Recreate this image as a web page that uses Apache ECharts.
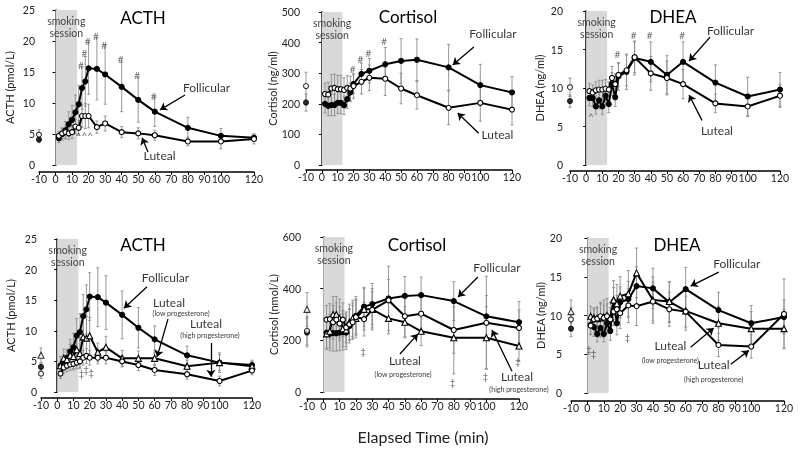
<!DOCTYPE html>
<html><head><meta charset="utf-8">
<script src="https://cdn.jsdelivr.net/npm/echarts@6/dist/echarts.min.js"></script>
<style>html,body{margin:0;padding:0;background:#fff}#c{width:800px;height:451px;filter:grayscale(100%)}</style>
</head><body><div id="c"></div>
<script>
// ---------- shared ----------
const times = [-10,2,4,6,8,10,12,14,16,18,20,25,30,40,50,60,80,100,120];
const smokingStart = 0, smokingEnd = 13;

// ---------- Panel 1: ACTH (top) ----------
const acthFol      = [4.1,4.3,5.0,5.6,6.6,7.3,8.5,9.8,12.4,13.5,15.6,15.5,14.6,12.6,10.5,8.6,6.0,4.7,4.4];
const acthFolErr   = [0.5,0.7,1.0,1.4,2.0,2.3,2.8,3.0,3.4,4.0,4.2,5.0,4.8,4.0,3.6,2.4,1.7,1.2,0.6];
const acthLut      = [4.9,4.7,5.1,5.3,5.1,5.3,6.2,6.0,7.9,7.9,7.9,6.1,6.7,5.3,5.1,4.8,3.8,3.8,4.2];
const acthLutErr   = [0.8,0.7,0.8,1.0,1.0,1.0,1.2,1.2,1.8,2.0,1.9,1.0,1.2,0.9,0.9,0.8,0.7,1.2,0.8];
const acthHash     = [[16,16.0],[18,17.9],[20,19.9],[25,20.7],[30,19.2],[40,16.9],[50,14.4],[60,11.0]];
const acthCaret    = [[18,4.7,'^^^']];

// ---------- Panel 2: Cortisol (top) ----------
const cortFol      = [204,200,193,196,196,203,203,195,215,237,265,298,308,329,340,344,319,261,237];
const cortFolErr   = [28,30,32,35,35,35,35,30,30,30,30,35,40,55,73,68,75,68,52];
const cortLut      = [258,232,230,250,252,248,248,245,252,250,258,272,285,282,250,228,187,203,181];
const cortLutErr   = [45,35,40,45,45,45,45,40,40,40,40,40,42,55,50,45,55,60,50];
const cortHash     = [[20,312],[25,343],[30,363],[40,401]];

// ---------- Panel 3: DHEA (top) ----------
const dheaFol      = [8.3,8.7,8.7,7.6,8.4,7.6,9.0,7.9,10.5,8.8,11.5,12.1,13.9,13.4,11.7,13.4,10.7,8.9,9.8];
const dheaFolErr   = [0.8,1.0,1.1,1.0,1.1,1.0,1.2,1.1,1.5,1.2,1.8,2.3,2.2,2.6,2.5,2.6,2.3,2.5,2.2];
const dheaLut      = [10.1,9.6,9.4,9.7,9.8,9.8,9.9,9.8,11.3,10.5,11.7,12.3,14.0,11.9,11.3,10.5,8.0,7.6,9.0];
const dheaLutErr   = [1.2,1.0,1.0,1.1,1.2,1.2,1.2,1.0,1.5,1.3,1.5,2.0,2.0,2.2,2.2,1.9,1.2,1.3,1.5];
const dheaHash     = [[20,14.3],[30,16.8],[40,16.8],[60,16.8]];
const dheaCaret    = [[3.5,6.2,'^']];

// ---------- Panel 4: ACTH (bottom, progesterone split) ----------
const acth2Fol     = [4.1,4.3,5.0,5.6,6.6,7.3,9.2,9.8,12.4,13.5,15.6,15.5,14.6,12.6,10.5,8.6,6.0,4.8,4.4];
const acth2FolErr  = [0.5,0.7,1.0,1.4,2.0,2.3,2.8,3.0,3.5,4.0,3.9,4.8,4.4,3.9,3.3,2.2,1.5,1.6,0.8];
const acth2Low     = [6.0,4.3,5.5,5.3,6.0,5.8,6.9,6.3,9.0,8.8,9.2,6.5,7.3,5.5,5.5,5.5,4.2,4.8,4.2];
const acth2LowErr  = [1.2,1.5,1.5,1.5,1.8,2.0,2.5,2.5,3.0,3.5,3.0,1.5,1.8,1.3,1.2,1.2,1.0,1.3,0.8];
const acth2High    = [3.0,3.0,4.0,4.3,4.5,4.6,4.8,5.0,5.6,5.9,5.6,5.6,5.6,5.0,4.4,3.6,2.9,1.8,3.5];
const acth2HighErr = [0.8,0.8,0.9,1.0,1.0,1.0,1.0,1.0,1.2,1.2,1.2,1.0,1.0,0.9,0.9,0.9,0.8,0.8,0.7];
const acth2Dagger  = [[15.5,3.0],[18.5,3.6],[21.5,3.1]];

// ---------- Panel 5: Cortisol (bottom) ----------
const cort2Fol     = [230,230,225,228,228,230,232,230,255,275,295,330,340,362,372,375,352,293,270];
const cort2FolErr  = [55,60,65,70,70,70,70,65,65,70,75,75,80,125,75,70,75,80,80];
const cort2Low     = [320,225,235,300,300,285,245,240,270,285,285,320,320,285,270,235,210,210,178];
const cort2LowErr  = [65,60,65,70,70,75,70,65,70,70,75,80,80,60,60,55,140,120,60];
const cort2High    = [237,280,282,270,280,265,280,250,262,270,290,282,318,355,293,303,240,268,248];
const cort2HighErr = [55,55,60,65,65,65,65,60,60,65,65,65,70,80,80,80,90,180,70];
const cort2Dagger  = [[25,156],[80,35],[100,59],[120,117]];

// ---------- Panel 6: DHEA (bottom) ----------
const dhea2Fol     = [8.3,8.8,8.5,7.6,8.4,7.6,9.0,8.0,11.8,9.0,11.7,12.1,13.8,13.5,11.7,13.4,10.7,9.0,9.8];
const dhea2FolErr  = [1.0,1.2,1.2,1.0,1.2,1.0,1.3,1.2,1.8,1.5,2.0,2.3,2.5,2.6,2.6,2.8,2.3,2.3,2.2];
const dhea2Low     = [10.5,9.9,9.7,9.6,9.7,9.8,10.0,9.7,12.0,11.5,12.5,12.8,15.5,12.0,11.8,10.6,9.0,8.3,8.3];
const dhea2LowErr  = [1.5,1.3,1.3,1.5,2.0,2.2,2.2,2.0,2.5,2.5,2.5,3.0,3.2,3.0,2.6,2.5,2.2,2.2,2.5];
const dhea2High    = [9.5,8.7,9.5,9.6,9.9,9.7,9.9,9.5,10.5,10.8,10.3,11.3,11.2,11.8,10.8,10.5,6.2,6.0,10.2];
const dhea2HighErr = [1.5,1.2,1.3,1.4,1.6,1.6,1.6,1.5,1.8,1.8,2.0,2.2,2.5,2.5,2.2,2.0,1.5,1.5,4.5];
const dhea2Dagger  = [[1.5,5.6],[4.5,5.0],[25,7.1]];

// ---------- annotations (data coordinates) ----------
const notes1 = [[91.9,12.3,'Follicular',12],[63.5,1.3,'Luteal',12]];
const arrows1 = [[[78.3,11.3],[63.2,8.9]],[[55.9,2.1],[52.3,4.4]]];
const notes2 = [[108.6,425,'Follicular',12],[111.4,98,'Luteal',12]];
const arrows2 = [[[95.9,386],[82.6,327]],[[99,104],[85.7,170]]];
const notes3 = [[90,17.3,'Follicular',12],[81.6,4.3,'Luteal',12]];
const arrows3 = [[[76.7,16.6],[63.7,13.5]],[[71.7,5.8],[63.7,9.1]]];
const notes4 = [[67.3,18.6,'Follicular',12],[69.5,14.4,'Luteal',12],[76.9,12.7,'(low progesterone)',7],
                [92.3,11.0,'Luteal',12],[94.7,9.2,'(high progesterone)',7]];
const arrows4 = [[[55.3,17.2],[41.1,13.7]],[[68.2,11.9],[61.5,5.7]],[[94.7,8.0],[94.7,2.5]]];
const notes5 = [[107.1,480,'Follicular',12],[50.7,120,'Luteal',12],[49.5,64,'(low progesterone)',7],
                [119.4,58,'Luteal',12],[120.6,6,'(high progesterone)',7]];
const arrows5 = [[[94.8,445],[82.6,368]],[[47,147],[58,225]],[[115.7,80],[103.4,240]]];
const notes6 = [[91.8,16.6,'Follicular',12],[51.3,6.0,'Luteal',12],[51.3,4.1,'(low progesterone)',7],
                [77.7,3.6,'Luteal',12],[77.7,1.7,'(high progesterone)',7]];
const arrows6 = [[[80.2,15.6],[63,13.8]],[[63,5.9],[77.1,8.4]],[[87.5,3.7],[98.6,5.5]]];

const FONT = 'Lato';

const panels = [
  {grid:{left:39,top:10,width:215,height:155}, xOff:7, yOff:1, yMax:25, yStep:5, yName:'ACTH (pmol/L)', gap:23, title:'ACTH', tpos:[143,17],
   groups:[{v:acthFol,e:acthFolErr,sym:'circle',fill:true},{v:acthLut,e:acthLutErr,sym:'circle',fill:false}],
   marks:[{pts:acthHash,txt:'#'},{pts:acthCaret,txt:null}], notes:notes1, arrows:arrows1},
  {grid:{left:306,top:12,width:206,height:153}, xOff:5, yOff:3, yMax:500, yStep:100, yName:'Cortisol (ng/ml)', gap:25, title:'Cortisol', tpos:[408,16],
   groups:[{v:cortFol,e:cortFolErr,sym:'circle',fill:true},{v:cortLut,e:cortLutErr,sym:'circle',fill:false}],
   marks:[{pts:cortHash,txt:'#'}], notes:notes2, arrows:arrows2},
  {grid:{left:570,top:11,width:210,height:154}, xOff:6, yOff:4, yMax:20, yStep:5, yName:'DHEA (ng/ml)', gap:21, title:'DHEA', tpos:[673,16],
   groups:[{v:dheaFol,e:dheaFolErr,sym:'circle',fill:true},{v:dheaLut,e:dheaLutErr,sym:'circle',fill:false}],
   marks:[{pts:dheaHash,txt:'#'},{pts:dheaCaret,txt:null}], notes:notes3, arrows:arrows3},
  {grid:{left:41,top:239,width:211,height:153}, xOff:6, yOff:1, yMax:25, yStep:5, yName:'ACTH (pmol/L)', gap:24, title:'ACTH', tpos:[143,244],
   groups:[{v:acth2Fol,e:acth2FolErr,sym:'circle',fill:true},{v:acth2Low,e:acth2LowErr,sym:'triangle',fill:false},{v:acth2High,e:acth2HighErr,sym:'circle',fill:false}],
   marks:[{pts:acth2Dagger,txt:'‡'}], notes:notes4, arrows:arrows4},
  {grid:{left:307,top:237,width:212,height:155}, xOff:7, yOff:3, yMax:600, yStep:200, yName:'Cortisol (nmol/L)', gap:23, title:'Cortisol', tpos:[417,244],
   groups:[{v:cort2Fol,e:cort2FolErr,sym:'circle',fill:true},{v:cort2Low,e:cort2LowErr,sym:'triangle',fill:false},{v:cort2High,e:cort2HighErr,sym:'circle',fill:false}],
   marks:[{pts:cort2Dagger,txt:'‡'}], notes:notes5, arrows:arrows5},
  {grid:{left:571,top:238,width:213,height:155}, xOff:8, yOff:6, yMax:20, yStep:5, yName:'DHEA (ng/ml)', gap:19, title:'DHEA', tpos:[677,244],
   groups:[{v:dhea2Fol,e:dhea2FolErr,sym:'circle',fill:true},{v:dhea2Low,e:dhea2LowErr,sym:'triangle',fill:false},{v:dhea2High,e:dhea2HighErr,sym:'circle',fill:false}],
   marks:[{pts:dhea2Dagger,txt:'‡'}], notes:notes6, arrows:arrows6}
];

const clear = 'rgba(0,0,0,0)';
function plainLabel(extra){
  return Object.assign({show:true, position:[0,0], align:'center', verticalAlign:'middle',
    formatter:q=>q.name, fontFamily:FONT, textBorderWidth:0, textShadowBlur:0}, extra);
}
const grids=[], xAxes=[], yAxes=[], series=[], graphics=[];
panels.forEach((p,i)=>{
  grids.push(Object.assign({containLabel:false}, p.grid));
  xAxes.push({type:'value', gridIndex:i, min:-10, max:120, interval:10, offset:p.xOff,
    axisLine:{onZero:false, lineStyle:{color:'#000', width:1.5}},
    axisTick:{show:true, length:3, lineStyle:{color:'#000'}},
    axisLabel:{fontFamily:FONT, fontSize:10.5, color:'#222', margin:1, showMinLabel:true, showMaxLabel:true, hideOverlap:false},
    splitLine:{show:false}});
  yAxes.push({type:'value', gridIndex:i, min:0, max:p.yMax, interval:p.yStep, offset:p.yOff,
    name:p.yName, nameLocation:'middle', nameGap:p.gap, nameTextStyle:{fontFamily:FONT, fontSize:11, color:'#222'},
    axisLine:{show:true, lineStyle:{color:'#000', width:1.5}},
    axisTick:{show:true, length:3, lineStyle:{color:'#000'}},
    axisLabel:{fontFamily:FONT, fontSize:10.5, color:'#222', margin:3},
    splitLine:{show:false}});
  // smoking session box
  series.push({type:'line', xAxisIndex:i, yAxisIndex:i, data:[], z:0, silent:true,
    markArea:{silent:true, itemStyle:{color:'#d9d9d9'},
      label:{show:true, position:'insideTop', distance:5, formatter:'smoking\nsession', fontFamily:FONT, fontSize:10.5, lineHeight:12, color:'#444', textBorderWidth:0},
      data:[[{xAxis:smokingStart},{xAxis:smokingEnd}]]}});
  p.groups.forEach(g=>{
    // error bars
    series.push({type:'custom', xAxisIndex:i, yAxisIndex:i, z:2, silent:true, clip:false,
      data: times.map((t,k)=>[t, g.v[k]-g.e[k], g.v[k]+g.e[k]]),
      encode:{x:0, y:[1,2]},
      renderItem:function(params, api){
        const x=api.value(0), lo=api.coord([x, api.value(1)]), hi=api.coord([x, api.value(2)]);
        const st={stroke:'#8c8c8c', lineWidth:0.9};
        return {type:'group', children:[
          {type:'line', shape:{x1:lo[0],y1:lo[1],x2:hi[0],y2:hi[1]}, style:st},
          {type:'line', shape:{x1:lo[0]-1.5,y1:lo[1],x2:lo[0]+1.5,y2:lo[1]}, style:st},
          {type:'line', shape:{x1:hi[0]-1.5,y1:hi[1],x2:hi[0]+1.5,y2:hi[1]}, style:st}
        ]};
      }});
    const item={color:g.fill?'#000':'#fff', borderColor:'#000', borderWidth:1.1};
    const size = g.sym==='triangle'?6:5;
    series.push({type:'line', xAxisIndex:i, yAxisIndex:i, z:3, silent:true,
      data: times.slice(1).map((t,k)=>[t, g.v[k+1]]),
      symbol:g.sym, symbolSize:size, showSymbol:true,
      lineStyle:{color:'#000', width:2}, itemStyle:item, emphasis:{disabled:true}});
    series.push({type:'scatter', xAxisIndex:i, yAxisIndex:i, z:3, silent:true,
      data:[[times[0], g.v[0]]], symbol:g.sym, symbolSize:size, itemStyle:item, emphasis:{disabled:true}});
  });
  // significance marks
  p.marks.forEach(m=>{
    series.push({type:'scatter', xAxisIndex:i, yAxisIndex:i, z:4, silent:true, clip:false,
      data:m.pts.map(a=>({value:[a[0],a[1]], name:(m.txt!==null?m.txt:a[2])})),
      symbol:'circle', symbolSize:1, itemStyle:{color:clear, borderColor:clear},
      label:plainLabel({fontSize:10, color:'#444'})});
  });
  // annotation texts + arrows
  series.push({type:'scatter', xAxisIndex:i, yAxisIndex:i, z:5, silent:true, clip:false,
    data:p.notes.map(n=>({value:[n[0],n[1]], label:{fontSize:n[3]}, name:n[2]})),
    symbolSize:1, itemStyle:{color:clear, borderColor:clear},
    label:plainLabel({color:'#000'}),
    markLine:{silent:true, symbol:['none','arrow'], symbolSize:7, animation:false,
      lineStyle:{color:'#000', width:1.3, type:'solid'}, label:{show:false},
      data:p.arrows.map(a=>[{coord:a[0]},{coord:a[1]}])}});
  graphics.push({type:'text', x:p.tpos[0], y:p.tpos[1],
    style:{text:p.title, font:'17px '+FONT, fill:'#000', textAlign:'center', textVerticalAlign:'middle'}});
});
graphics.push({type:'text', x:423, y:436,
  style:{text:'Elapsed Time (min)', font:'16px '+FONT, fill:'#222', textAlign:'center', textVerticalAlign:'middle'}});

const chart = echarts.init(document.getElementById('c'), null, {renderer:'svg'});
chart.setOption({animation:false, backgroundColor:'#fff', textStyle:{fontFamily:FONT},
  grid:grids, xAxis:xAxes, yAxis:yAxes, series:series, graphic:graphics});
</script></body></html>
